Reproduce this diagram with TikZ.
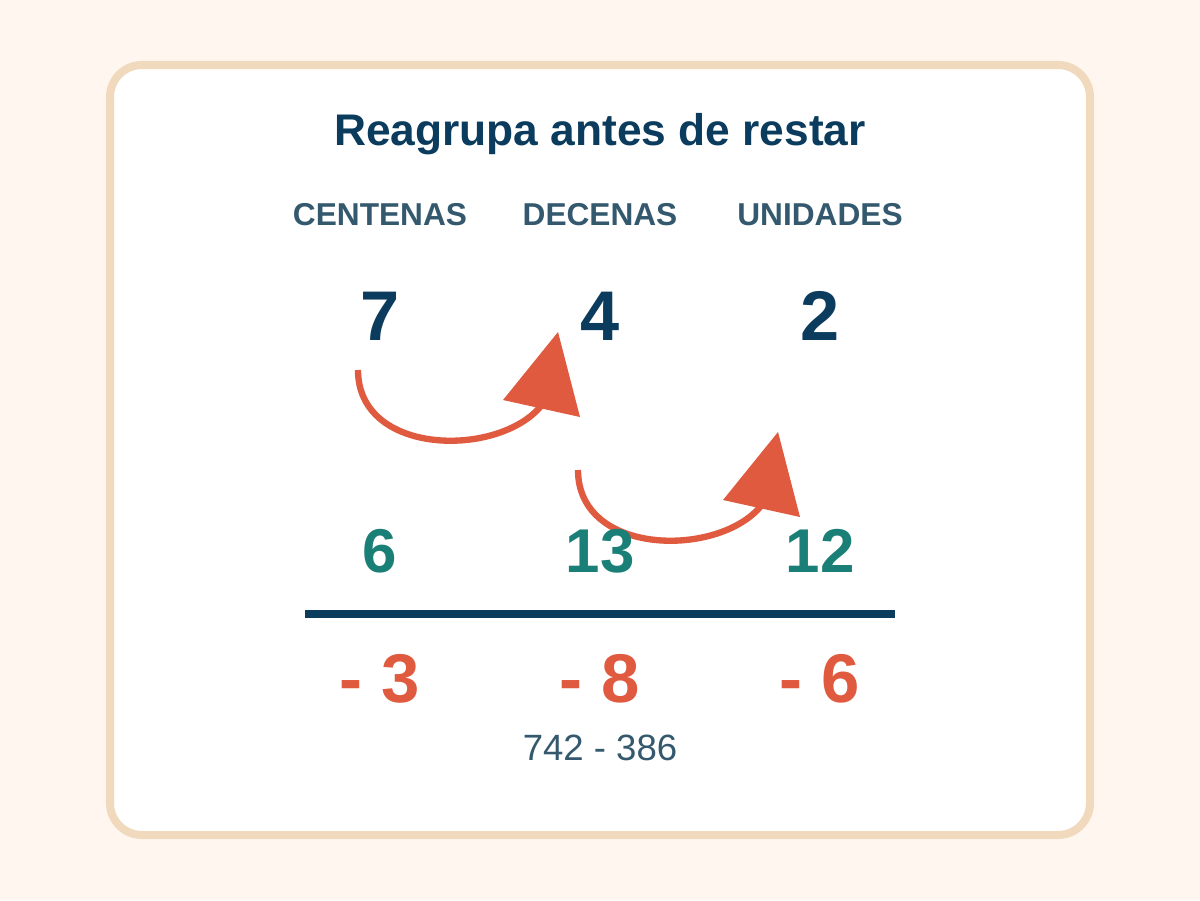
\documentclass[tikz,border=0pt]{standalone}
\usepackage{fontspec}
\setmainfont{Liberation Sans}
\usepackage{tikz}
\usetikzlibrary{positioning}

\definecolor{paper}{HTML}{FFF7EF}
\definecolor{cardline}{HTML}{F0D9BC}
\definecolor{navy}{HTML}{0B3C5D}
\definecolor{slate}{HTML}{34596E}
\definecolor{teal}{HTML}{1A7F77}
\definecolor{coral}{HTML}{E05A3F}

\begin{document}
\begin{tikzpicture}[x=0.025cm,y=-0.025cm,
  header/.style={anchor=base,text=slate,font=\fontsize{22.5}{26}\selectfont\bfseries},
  topdigit/.style={anchor=base,text=navy,font=\fontsize{50}{56}\selectfont\bfseries},
  newdigit/.style={anchor=base,text=teal,font=\fontsize{44}{50}\selectfont\bfseries},
  subdigit/.style={anchor=base,text=coral,font=\fontsize{49}{55}\selectfont\bfseries},
  swaparrow/.style={draw=coral,line width=4.5pt},
  swaphead/.style={fill=coral}]
  % page and card
  \fill[paper] (0,0) rectangle (1200,900);
  \draw[cardline,fill=white,line width=5.7pt,rounded corners=0.8cm]
    (110,65) rectangle (1090,835);

  \node[anchor=base,text=navy,font=\fontsize{31.5}{36}\selectfont\bfseries]
    (title) at (600,145) {Reagrupa antes de restar};

  % column headers
  \node[header] (hc) at (380,225) {CENTENAS};
  \node[header] (hd) at (600,225) {DECENAS};
  \node[header] (hu) at (820,225) {UNIDADES};

  % borrow arrows
  \coordinate (from7) at (358,370);
  \coordinate (end7) at (541,406);
  \draw[swaparrow] (from7) .. controls (358,456) and (498,458) .. (end7);
  \fill[swaphead] (558,332) -- (503,400) -- (580,417) -- cycle;
  \coordinate (from4) at (578,470);
  \coordinate (end4) at (761,506);
  \draw[swaparrow] (from4) .. controls (578,556) and (718,558) .. (end4);
  \fill[swaphead] (778,432) -- (723,500) -- (800,517) -- cycle;

  % original number
  \node[topdigit] (d7) at (380,340) {7};
  \node[topdigit] (d4) at (600,340) {4};
  \node[topdigit] (d2) at (820,340) {2};

  % after regrouping
  \node[newdigit] (n6) at (380,572) {6};
  \node[newdigit] (n13) at (600,572) {13};
  \node[newdigit] (n12) at (820,572) {12};

  \coordinate (barl) at (305,614);
  \coordinate (barr) at (895,614);
  \draw[navy,line width=5pt] (barl) -- (barr);

  % subtrahend
  \node[subdigit] (s3) at (380,702) {- 3};
  \node[subdigit] (s8) at (600,702) {- 8};
  \node[subdigit] (s6) at (820,702) {- 6};

  \node[anchor=base,text=slate,font=\fontsize{26}{30}\selectfont]
    (sum) at (600,760) {742 - 386};
\end{tikzpicture}
\end{document}
